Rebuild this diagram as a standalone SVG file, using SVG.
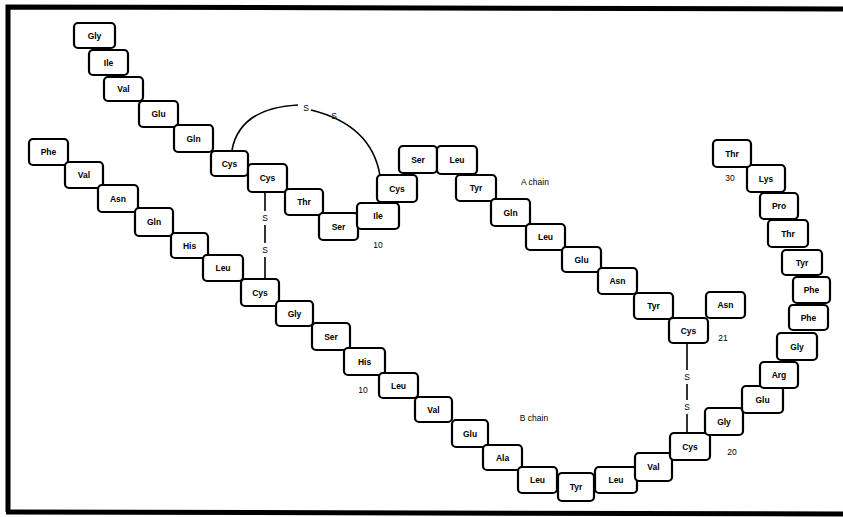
<svg xmlns="http://www.w3.org/2000/svg" width="843" height="517" viewBox="0 0 843 517">
<style>
.b rect{fill:#fff;stroke:#000;stroke-width:2.2;}
.b text,.l{font-family:"Liberation Sans",Arial,sans-serif;font-size:8.5px;fill:#000;text-anchor:middle;dominant-baseline:central;}
.b text{font-weight:bold;}
.c{fill:none;stroke:#000;stroke-width:1.6;}
</style>
<rect width="843" height="517" fill="#fff"/>
<g id="frame" fill="none" stroke="#000" stroke-width="5">
<path d="M8 512 L8 7 L843 9"/>
<path d="M6 512 L843 514"/>
</g>
<g id="connectors">
<path class="c" d="M232 150 Q240 108 298 105"/>
<path class="c" d="M311 110 Q372 125 380 176"/>
<path class="c" d="M265 193 V211 M265 225 V243 M265 257 V279"/>
<path class="c" d="M687 343 V370 M687 384 V400 M687 414 V433"/>
</g>
<g id="labels">
<text class="l" x="306" y="108">S</text>
<text class="l" x="334" y="116">S</text>
<text class="l" x="265" y="218">S</text>
<text class="l" x="265" y="250">S</text>
<text class="l" x="687" y="377">S</text>
<text class="l" x="687" y="407">S</text>
<text class="l" x="378" y="245">10</text>
<text class="l" x="535" y="182">A chain</text>
<text class="l" x="723" y="338">21</text>
<text class="l" x="363" y="390">10</text>
<text class="l" x="534" y="418">B chain</text>
<text class="l" x="732" y="452">20</text>
<text class="l" x="730" y="178">30</text>
</g>
<g id="A1" class="b"><rect x="74" y="23" width="41" height="25" rx="4"/><text x="94.5" y="35.5">Gly</text></g>
<g id="A2" class="b"><rect x="89" y="50" width="39" height="25" rx="4"/><text x="108.5" y="62.5">Ile</text></g>
<g id="A3" class="b"><rect x="104" y="77" width="39" height="24" rx="4"/><text x="123.5" y="89">Val</text></g>
<g id="A4" class="b"><rect x="139" y="101" width="39" height="26" rx="4"/><text x="158.5" y="114">Glu</text></g>
<g id="A5" class="b"><rect x="174" y="125" width="39" height="27" rx="4"/><text x="193.5" y="138.5">Gln</text></g>
<g id="A6" class="b"><rect x="211" y="151" width="37" height="25" rx="4"/><text x="229.5" y="163.5">Cys</text></g>
<g id="A7" class="b"><rect x="248" y="164" width="39" height="28" rx="4"/><text x="267.5" y="178">Cys</text></g>
<g id="A8" class="b"><rect x="285" y="189" width="38" height="26" rx="4"/><text x="304" y="202">Thr</text></g>
<g id="A9" class="b"><rect x="319" y="213" width="39" height="27" rx="4"/><text x="338.5" y="226.5">Ser</text></g>
<g id="A10" class="b"><rect x="357" y="203" width="42" height="26" rx="4"/><text x="378" y="216">Ile</text></g>
<g id="A11" class="b"><rect x="377" y="175" width="40" height="27" rx="4"/><text x="397" y="188.5">Cys</text></g>
<g id="A12" class="b"><rect x="399" y="146" width="38" height="27" rx="4"/><text x="418" y="159.5">Ser</text></g>
<g id="A13" class="b"><rect x="437" y="146" width="40" height="28" rx="4"/><text x="457" y="160">Leu</text></g>
<g id="A14" class="b"><rect x="456" y="175" width="40" height="26" rx="4"/><text x="476" y="188">Tyr</text></g>
<g id="A15" class="b"><rect x="491" y="199" width="39" height="27" rx="4"/><text x="510.5" y="212.5">Gln</text></g>
<g id="A16" class="b"><rect x="526" y="224" width="39" height="26" rx="4"/><text x="545.5" y="237">Leu</text></g>
<g id="A17" class="b"><rect x="562" y="247" width="39" height="25" rx="4"/><text x="581.5" y="259.5">Glu</text></g>
<g id="A18" class="b"><rect x="598" y="268" width="39" height="26" rx="4"/><text x="617.5" y="281">Asn</text></g>
<g id="A19" class="b"><rect x="634" y="293" width="39" height="26" rx="4"/><text x="653.5" y="306">Tyr</text></g>
<g id="A20" class="b"><rect x="669" y="318" width="39" height="25" rx="4"/><text x="688.5" y="330.5">Cys</text></g>
<g id="A21" class="b"><rect x="706" y="292" width="39" height="26" rx="4"/><text x="725.5" y="305">Asn</text></g>
<g id="B1" class="b"><rect x="29" y="139" width="39" height="26" rx="4"/><text x="48.5" y="152">Phe</text></g>
<g id="B2" class="b"><rect x="65" y="162" width="38" height="26" rx="4"/><text x="84" y="175">Val</text></g>
<g id="B3" class="b"><rect x="98" y="185" width="40" height="27" rx="4"/><text x="118" y="198.5">Asn</text></g>
<g id="B4" class="b"><rect x="135" y="208" width="38" height="28" rx="4"/><text x="154" y="222">Gln</text></g>
<g id="B5" class="b"><rect x="171" y="233" width="37" height="25" rx="4"/><text x="189.5" y="245.5">His</text></g>
<g id="B6" class="b"><rect x="203" y="255" width="40" height="26" rx="4"/><text x="223" y="268">Leu</text></g>
<g id="B7" class="b"><rect x="241" y="279" width="38" height="27" rx="4"/><text x="260" y="292.5">Cys</text></g>
<g id="B8" class="b"><rect x="276" y="301" width="37" height="25" rx="4"/><text x="294.5" y="313.5">Gly</text></g>
<g id="B9" class="b"><rect x="312" y="323" width="38" height="27" rx="4"/><text x="331" y="336.5">Ser</text></g>
<g id="B10" class="b"><rect x="344" y="348" width="41" height="27" rx="4"/><text x="364.5" y="361.5">His</text></g>
<g id="B11" class="b"><rect x="379" y="373" width="39" height="25" rx="4"/><text x="398.5" y="385.5">Leu</text></g>
<g id="B12" class="b"><rect x="415" y="397" width="37" height="25" rx="4"/><text x="433.5" y="409.5">Val</text></g>
<g id="B13" class="b"><rect x="452" y="420" width="36" height="27" rx="4"/><text x="470" y="433.5">Glu</text></g>
<g id="B14" class="b"><rect x="483" y="445" width="39" height="25" rx="4"/><text x="502.5" y="457.5">Ala</text></g>
<g id="B15" class="b"><rect x="518" y="467" width="39" height="26" rx="4"/><text x="537.5" y="480">Leu</text></g>
<g id="B16" class="b"><rect x="558" y="473" width="36" height="28" rx="4"/><text x="576" y="487">Tyr</text></g>
<g id="B17" class="b"><rect x="595" y="467" width="42" height="26" rx="4"/><text x="616" y="480">Leu</text></g>
<g id="B18" class="b"><rect x="635" y="453" width="37" height="28" rx="4"/><text x="653.5" y="467">Val</text></g>
<g id="B19" class="b"><rect x="670" y="433" width="40" height="27" rx="4"/><text x="690" y="446.5">Cys</text></g>
<g id="B20" class="b"><rect x="705" y="408" width="38" height="27" rx="4"/><text x="724" y="421.5">Gly</text></g>
<g id="B21" class="b"><rect x="742" y="386" width="41" height="27" rx="4"/><text x="762.5" y="399.5">Glu</text></g>
<g id="B22" class="b"><rect x="760" y="362" width="38" height="26" rx="4"/><text x="779" y="375">Arg</text></g>
<g id="B23" class="b"><rect x="777" y="333" width="40" height="27" rx="4"/><text x="797" y="346.5">Gly</text></g>
<g id="B24" class="b"><rect x="789" y="305" width="39" height="25" rx="4"/><text x="808.5" y="317.5">Phe</text></g>
<g id="B25" class="b"><rect x="793" y="277" width="37" height="26" rx="4"/><text x="811.5" y="290">Phe</text></g>
<g id="B26" class="b"><rect x="782" y="250" width="40" height="25" rx="4"/><text x="802" y="262.5">Tyr</text></g>
<g id="B27" class="b"><rect x="768" y="220" width="40" height="27" rx="4"/><text x="788" y="233.5">Thr</text></g>
<g id="B28" class="b"><rect x="760" y="193" width="38" height="26" rx="4"/><text x="779" y="206">Pro</text></g>
<g id="B29" class="b"><rect x="747" y="165" width="38" height="27" rx="4"/><text x="766" y="178.5">Lys</text></g>
<g id="B30" class="b"><rect x="713" y="140" width="38" height="27" rx="4"/><text x="732" y="153.5">Thr</text></g>
</svg>
